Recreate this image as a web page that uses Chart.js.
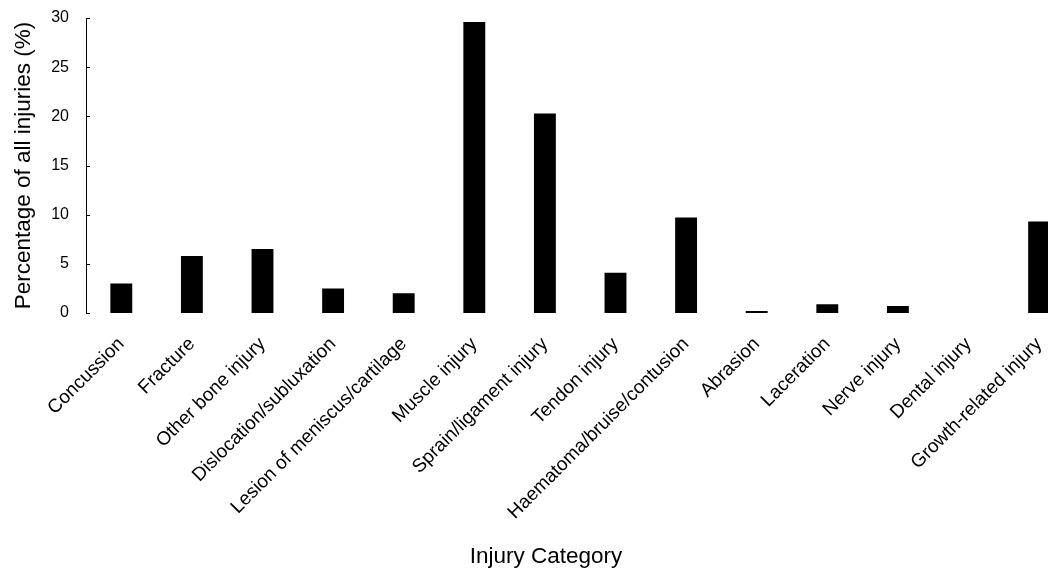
<!DOCTYPE html>
<html>
<head>
<meta charset="utf-8">
<script src="https://cdn.jsdelivr.net/npm/chart.js@4.4.1/dist/chart.umd.min.js"></script>
<style>
  html, body { margin: 0; padding: 0; background: #fff; overflow: hidden; }
  #wrap { width: 1092px; height: 572px; }
</style>
</head>
<body>
<div id="wrap"><canvas id="c" width="1092" height="572"></canvas></div>
<script>
const categories = [
  "Concussion", "Fracture", "Other bone injury", "Dislocation/subluxation",
  "Lesion of meniscus/cartilage", "Muscle injury", "Sprain/ligament injury",
  "Tendon injury", "Haematoma/bruise/contusion", "Abrasion", "Laceration",
  "Nerve injury", "Dental injury", "Growth-related injury"
];
const percentages = [3.0, 5.8, 6.5, 2.5, 2.0, 29.6, 20.3, 4.1, 9.7, 0.2, 0.9, 0.7, 0, 9.3];
const yTicks = [0, 5, 10, 15, 20, 25, 30];
const xTitle = "Injury Category";
const yTitle = "Percentage of all injuries (%)";

const FONT = "'Liberation Sans', Arial, sans-serif";

const inwardTicks = {
  id: 'inwardTicks',
  afterDraw(chart) {
    const y = chart.scales.y;
    const ctx = chart.ctx;
    ctx.save();
    ctx.strokeStyle = '#000';
    ctx.lineWidth = 1;
    y.ticks.forEach(t => {
      const py = Math.round(y.getPixelForValue(t.value)) + 0.5;
      ctx.beginPath();
      ctx.moveTo(y.right, py);
      ctx.lineTo(y.right + 4, py);
      ctx.stroke();
    });
    ctx.restore();
  }
};

new Chart(document.getElementById('c'), {
  type: 'bar',
  data: {
    labels: categories,
    datasets: [{
      data: percentages,
      backgroundColor: '#000',
      borderWidth: 0,
      barPercentage: 0.31,
      categoryPercentage: 1.0
    }]
  },
  options: {
    responsive: false,
    animation: false,
    devicePixelRatio: 1,
    layout: { padding: { top: 18, right: 0, left: 0, bottom: 0 } },
    plugins: {
      legend: { display: false },
      tooltip: { enabled: false },
      title: {
        display: true,
        position: 'bottom',
        text: xTitle,
        color: '#000',
        font: { family: FONT, size: 22.5, weight: 'normal' },
        padding: { top: 0, bottom: 2 }
      }
    },
    scales: {
      x: {
        grid: { display: false, drawTicks: false },
        border: { display: false },
        ticks: {
          color: '#000',
          font: { family: FONT, size: 19 },
          maxRotation: 45,
          minRotation: 45,
          padding: 20,
          autoSkip: false
        },
        afterFit(s) { s.height = 572 - 313 - 29; }
      },
      y: {
        min: 0,
        max: 30,
        afterBuildTicks(s) { s.ticks = yTicks.map(v => ({ value: v })); },
        grid: { display: false, drawTicks: false },
        border: { display: true, color: '#000', width: 1 },
        ticks: {
          color: '#000',
          font: { family: FONT, size: 16 },
          padding: 17
        },
        title: {
          display: true,
          text: yTitle,
          color: '#000',
          font: { family: FONT, size: 22.5 },
          padding: { top: 10, bottom: 0 }
        },
        afterFit(s) { s.width = 86; s.paddingTop = 10; s.paddingBottom = 10; }
      },
      yRight: {
        position: 'right',
        display: true,
        grid: { display: false, drawTicks: false },
        border: { display: false },
        ticks: { display: false },
        afterFit(s) { s.width = 17.6; s.paddingTop = 0; s.paddingBottom = 0; }
      }
    }
  },
  plugins: [inwardTicks]
});
</script>
</body>
</html>
